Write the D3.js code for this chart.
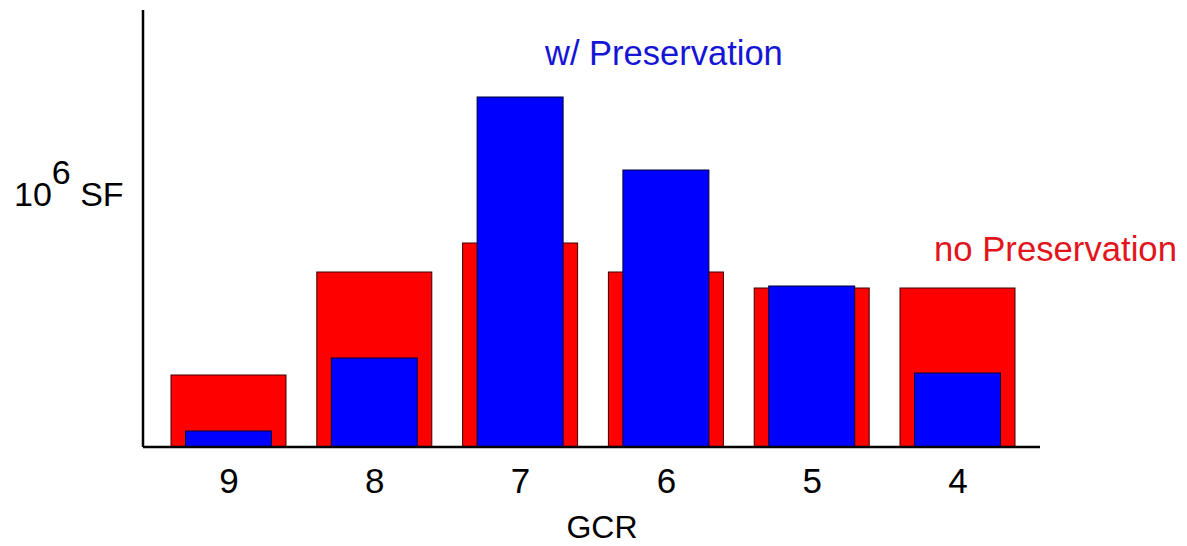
<!DOCTYPE html>
<html>
<head>
<meta charset="utf-8">
<script src="https://cdn.jsdelivr.net/npm/d3@7"></script>
<style>
  body { margin: 0; background: #fff; }
  svg text { font-family: "Liberation Sans", Arial, Helvetica, sans-serif; }
</style>
</head>
<body>
<div id="chart"></div>
<script>
    var width = 1187,
        height = 546;

    // GCR categories
    var categories = ["9", "8", "7", "6", "5", "4"];
    // no Preservation (red) / w/ Preservation (blue), 10^6 SF
    var noPreservation = [0.72, 1.75, 2.04, 1.75, 1.59, 1.59];
    var withPreservation = [0.16, 0.89, 3.50, 2.77, 1.61, 0.74];

    var x = d3.scalePoint()
        .domain(categories)
        .range([228.5, 957.5]);

    var y = d3.scaleLinear()
        .domain([0, 4.37])
        .range([447, 10]);

    var svg = d3.select("#chart").append("svg")
        .attr("width", width)
        .attr("height", height);

    var redW = 115, blueW = 86;

    // 红色柱
    svg.append("g").selectAll("rect")
        .data(noPreservation)
        .enter().append("rect")
        .attr("x", function (d, i) { return x(categories[i]) - redW / 2; })
        .attr("y", function (d) { return y(d); })
        .attr("width", redW)
        .attr("height", function (d) { return y(0) - y(d); })
        .attr("fill", "#ff0000")
        .attr("stroke", "#3a0000")
        .attr("stroke-width", 1);

    // 蓝色柱
    svg.append("g").selectAll("rect")
        .data(withPreservation)
        .enter().append("rect")
        .attr("x", function (d, i) { return x(categories[i]) - blueW / 2; })
        .attr("y", function (d) { return y(d); })
        .attr("width", blueW)
        .attr("height", function (d) { return y(0) - y(d); })
        .attr("fill", "#0000ff")
        .attr("stroke", "#00003a")
        .attr("stroke-width", 1);

    // axes
    var xAxis = d3.axisBottom(x).tickSize(0).tickPadding(21);
    var gx = svg.append("g")
        .attr("transform", "translate(0," + y(0) + ")")
        .call(xAxis);
    gx.select(".domain").remove();
    gx.selectAll("text")
        .attr("font-size", 35)
        .attr("font-family", "Liberation Sans, Arial, sans-serif")
        .attr("fill", "#000");

    svg.append("line")
        .attr("x1", 143).attr("x2", 1040)
        .attr("y1", y(0)).attr("y2", y(0))
        .attr("stroke", "#000").attr("stroke-width", 2.5);
    svg.append("line")
        .attr("x1", 143).attr("x2", 143)
        .attr("y1", y(4.37)).attr("y2", y(0))
        .attr("stroke", "#000").attr("stroke-width", 2.5);

    svg.append("text")
        .attr("x", 602).attr("y", 538)
        .attr("text-anchor", "middle")
        .attr("font-size", 32)
        .text("GCR");

    var yl = svg.append("text")
        .attr("x", 14).attr("y", 206)
        .attr("font-size", 34);
    yl.append("tspan").text("10");
    yl.append("tspan").attr("dy", -22).attr("font-size", 34).text("6");
    yl.append("tspan").attr("dy", 22).text(" SF");

    svg.append("text")
        .attr("x", 545).attr("y", 65)
        .attr("font-size", 34.5)
        .attr("fill", "#1515d6")
        .text("w/ Preservation");

    svg.append("text")
        .attr("x", 934).attr("y", 261)
        .attr("font-size", 34.7)
        .attr("fill", "#e2141c")
        .text("no Preservation");
</script>
</body>
</html>
